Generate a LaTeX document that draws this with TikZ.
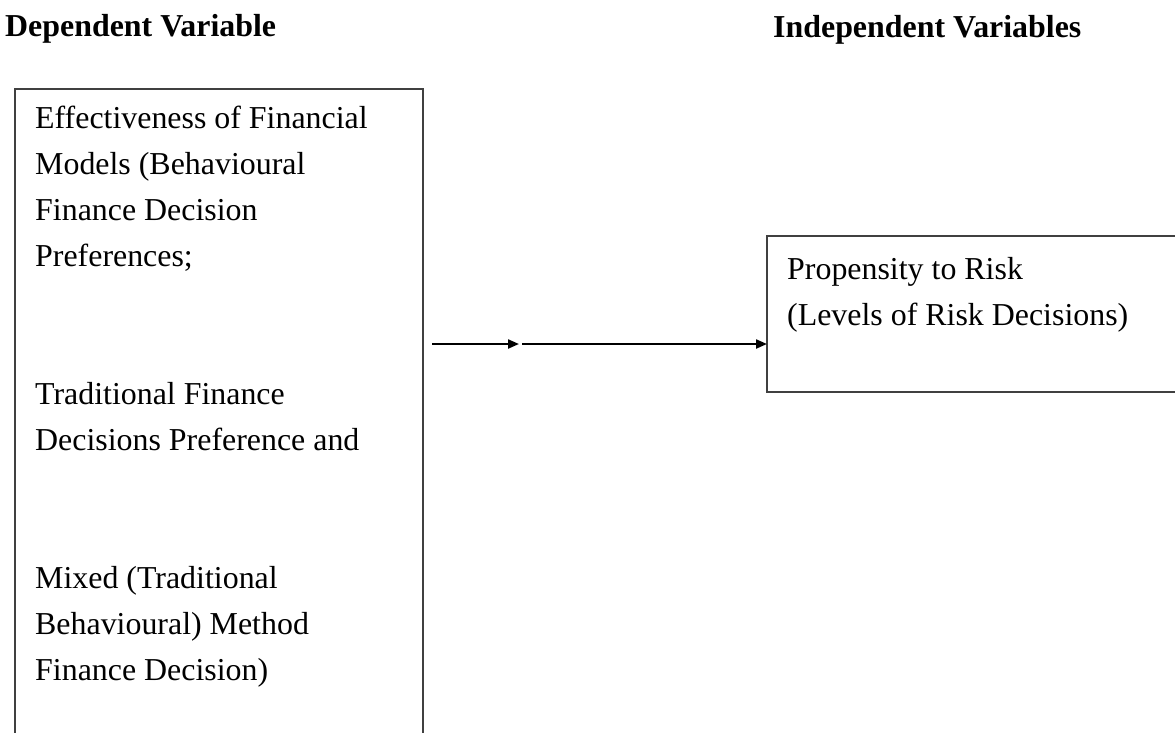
\documentclass[tikz,border=0pt]{standalone}
\usepackage{fontspec}
\setmainfont{Liberation Serif}
\usetikzlibrary{arrows.meta}
\begin{document}
\begin{tikzpicture}[x=1pt,y=-1pt,
  txt/.style={anchor=base west,inner sep=0pt,font=\fontsize{31.9}{38}\selectfont},
  head/.style={txt,font=\fontsize{31.9}{38}\selectfont\bfseries},
  frame/.style={draw=black!75,line width=1.3pt},
  arr/.style={line width=2.2pt,-{Triangle[length=11pt,width=9pt]}}]
\useasboundingbox (0,0) rectangle (1175,732);
% headings
\node[head] (h1) at (5,36) {Dependent Variable};
\node[head] (h2) at (773,37) {Independent Variables};
% boxes (extend past the page edge, cropped as in the reference)
\path[frame] (15,89) rectangle (423,780);
\path[frame] (767,236) rectangle (1200,392);
\coordinate (rboxw) at (767,314);
% left box text
\node[txt] (l1) at (35,128) {Effectiveness of Financial};
\node[txt] (l2) at (35,174) {Models (Behavioural};
\node[txt] (l3) at (35,220) {Finance Decision};
\node[txt] (l4) at (35,266) {Preferences;};
\node[txt] (l5) at (35,404) {Traditional Finance};
\node[txt] (l6) at (35,450) {Decisions Preference and};
\node[txt] (l7) at (35,588) {Mixed (Traditional};
\node[txt] (l8) at (35,634) {Behavioural) Method};
\node[txt] (l9) at (35,680) {Finance Decision)};
% right box text
\node[txt] (r1) at (787,279) {Propensity to Risk};
\node[txt] (r2) at (787,325) {(Levels of Risk Decisions)};
% arrows
\coordinate (a0) at (432,344);
\coordinate (a1) at (519,344);
\coordinate (a2) at (522,344);
\draw[arr] (a0) -- (a1);
\draw[arr] (a2) -- (rboxw |- a2);
\end{tikzpicture}
\end{document}
